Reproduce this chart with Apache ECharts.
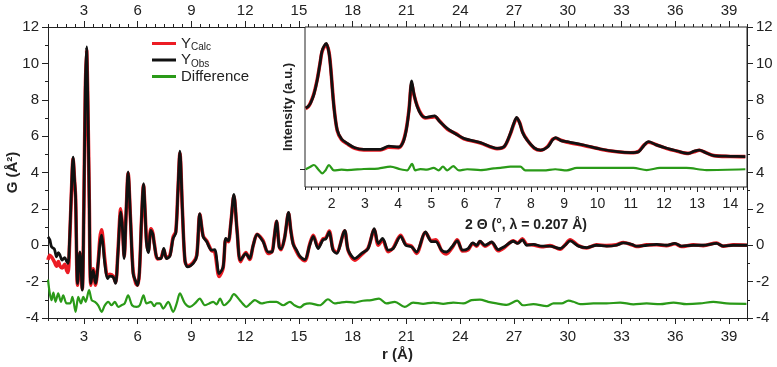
<!DOCTYPE html>
<html>
<head>
<meta charset="utf-8">
<script src="https://cdn.jsdelivr.net/npm/echarts@6/dist/echarts.min.js"></script>
<style>
  html, body { margin: 0; padding: 0; background: #fff; }
  #chart { width: 777px; height: 367px; }
</style>
</head>
<body>
<div id="chart"></div>
<script>
// G(r) – observed, calculated, difference (offset)
const obsMain = [[1.0,0.46],[1.1,0.3],[1.2,-0.09],[1.35,-0.2],[1.48,-0.64],[1.58,-0.4],[1.67,-0.55],[1.79,-0.82],[1.93,-0.68],[2.05,-0.9],[2.12,-1.0],[2.2,0.2],[2.3,2.8],[2.40,4.85],[2.48,3.6],[2.54,2.65],[2.65,-2.1],[2.78,-0.37],[2.91,-2.47],[3.0,2.0],[3.08,8.5],[3.15,10.9],[3.22,8.0],[3.30,2.65],[3.39,-2.1],[3.52,-1.37],[3.65,-2.1],[3.80,-1.0],[3.9,0.1],[3.99,0.55],[4.08,-0.1],[4.17,-1.0],[4.32,-1.83],[4.45,-1.7],[4.64,-1.75],[4.77,-2.1],[4.9,-0.5],[5.06,1.83],[5.15,1.0],[5.25,-0.73],[5.36,1.8],[5.47,4.03],[5.6,1.5],[5.75,-1.56],[5.9,-2.0],[6.0,-2.2],[6.1,-1.5],[6.22,1.5],[6.33,3.39],[6.42,1.8],[6.5,0.1],[6.6,-0.4],[6.74,0.82],[6.85,0.6],[6.93,0.05],[7.11,-0.73],[7.3,-0.73],[7.46,-0.18],[7.61,-0.73],[7.8,-0.6],[7.98,0.37],[8.13,0.68],[8.25,3.0],[8.36,5.18],[8.5,1.9],[8.64,-0.82],[8.79,-1.19],[9.1,-1.0],[9.3,-0.6],[9.47,1.74],[9.66,0.46],[9.85,0.2],[10.13,-0.27],[10.3,-0.24],[10.55,-1.56],[10.77,-1.19],[10.92,0.37],[11.06,0.24],[11.2,1.2],[11.37,2.8],[11.55,0.77],[11.74,-0.82],[12.04,-0.46],[12.25,-0.73],[12.45,0.0],[12.67,0.6],[13.0,0.2],[13.28,-0.37],[13.5,-0.37],[13.62,0.4],[13.75,1.34],[13.9,-0.1],[14.0,-0.2],[14.2,0.4],[14.42,1.8],[14.55,0.8],[14.68,0.05],[14.87,-0.27],[15.05,-0.6],[15.33,-0.79],[15.6,0.0],[15.8,0.49],[16.07,-0.18],[16.34,0.3],[16.5,0.35],[16.69,0.73],[16.9,-0.27],[17.1,-0.45],[17.55,0.82],[17.75,-0.27],[18.12,-0.73],[18.5,-0.45],[18.86,-0.18],[19.2,0.91],[19.43,0.09],[19.67,0.37],[19.98,-0.27],[20.26,-0.18],[20.67,0.49],[20.96,0.0],[21.28,-0.09],[21.56,-0.37],[22.06,0.73],[22.4,0.2],[22.64,0.2],[22.96,-0.27],[23.23,-0.37],[23.57,-0.05],[23.83,0.24],[24.13,-0.27],[24.44,-0.18],[24.7,0.13],[24.92,0.0],[25.1,0.22],[25.38,0.0],[25.75,0.18],[26.12,-0.24],[26.5,-0.05],[26.96,0.22],[27.2,0.1],[27.47,0.3],[27.71,0.0],[28.08,0.05],[28.55,-0.05],[29.01,-0.05],[29.57,-0.18],[29.85,0.0],[30.13,0.24],[30.6,-0.05],[31.06,-0.13],[31.6,0.0],[32.17,-0.05],[32.7,0.0],[33.1,0.13],[33.56,0.05],[33.84,-0.05],[34.4,0.0],[34.96,0.05],[35.5,0.0],[35.98,0.1],[36.35,-0.05],[37.0,0.0],[37.56,0.0],[38.3,0.1],[38.67,-0.05],[39.23,0.0],[40.0,0.0]];

const calcMain = [[1.0,-0.8],[1.1,-0.55],[1.2,-0.65],[1.35,-0.9],[1.48,-1.15],[1.58,-0.9],[1.67,-1.15],[1.79,-1.25],[1.93,-1.05],[2.05,-1.4],[2.12,-1.5],[2.2,0.0],[2.3,2.7],[2.40,4.75],[2.48,3.6],[2.54,2.6],[2.65,-2.2],[2.78,-0.45],[2.91,-2.4],[3.0,2.1],[3.08,8.4],[3.15,10.75],[3.22,8.0],[3.30,2.6],[3.39,-2.2],[3.52,-1.3],[3.65,-2.2],[3.80,-0.9],[3.9,0.4],[3.99,0.85],[4.08,0.2],[4.17,-0.8],[4.32,-1.7],[4.45,-1.6],[4.64,-1.7],[4.77,-2.05],[4.9,-0.4],[5.06,2.0],[5.15,1.1],[5.25,-0.6],[5.36,1.8],[5.47,3.95],[5.6,1.5],[5.75,-1.45],[5.9,-2.1],[6.0,-2.2],[6.1,-1.5],[6.22,1.4],[6.33,3.3],[6.42,1.8],[6.5,0.2],[6.6,-0.3],[6.74,0.9],[6.85,0.65],[6.93,0.1],[7.11,-0.75],[7.3,-0.7],[7.46,-0.25],[7.61,-0.7],[7.8,-0.55],[7.98,0.45],[8.13,0.75],[8.25,3.0],[8.36,5.05],[8.5,1.9],[8.64,-0.85],[8.79,-1.15],[9.1,-0.95],[9.3,-0.55],[9.47,1.7],[9.66,0.5],[9.85,0.25],[10.13,-0.3],[10.3,-0.35],[10.55,-1.72],[10.77,-1.25],[10.92,0.3],[11.06,0.2],[11.2,1.2],[11.37,2.7],[11.55,0.8],[11.74,-0.9],[12.04,-0.4],[12.25,-0.78],[12.45,0.0],[12.67,0.6],[13.0,0.25],[13.28,-0.45],[13.5,-0.35],[13.62,0.4],[13.75,1.3],[13.9,-0.05],[14.0,-0.25],[14.2,0.4],[14.42,1.75],[14.55,0.8],[14.68,0.1],[14.87,-0.35],[15.05,-0.65],[15.33,-0.85],[15.6,0.05],[15.8,0.55],[16.07,-0.1],[16.34,0.35],[16.5,0.4],[16.69,0.78],[16.9,-0.2],[17.1,-0.4],[17.55,0.78],[17.75,-0.3],[18.12,-0.82],[18.5,-0.5],[18.86,-0.15],[19.2,0.85],[19.43,0.0],[19.67,0.3],[19.98,-0.35],[20.26,-0.15],[20.67,0.55],[20.96,0.05],[21.28,-0.05],[21.56,-0.45],[22.06,0.7],[22.4,0.25],[22.64,0.3],[22.96,-0.3],[23.23,-0.48],[23.57,-0.1],[23.83,0.3],[24.13,-0.32],[24.44,-0.25],[24.7,0.1],[24.92,-0.05],[25.1,0.2],[25.38,-0.05],[25.75,0.15],[26.12,-0.3],[26.5,-0.1],[26.96,0.25],[27.2,0.12],[27.47,0.35],[27.71,0.05],[28.08,0.02],[28.55,-0.08],[29.01,-0.02],[29.57,-0.22],[29.85,0.02],[30.13,0.3],[30.6,-0.02],[31.06,-0.15],[31.6,0.02],[32.17,-0.02],[32.7,0.02],[33.1,0.15],[33.56,0.03],[33.84,-0.07],[34.4,0.02],[34.96,0.03],[35.5,-0.02],[35.98,0.08],[36.35,-0.07],[37.0,0.02],[37.56,-0.02],[38.3,0.12],[38.67,-0.05],[39.23,0.02],[40.0,0.0]];

const diffMain = [[1.0,-1.89],[1.1,-2.65],[1.2,-3.02],[1.3,-2.6],[1.42,-3.11],[1.57,-2.65],[1.72,-3.11],[1.85,-2.75],[2.04,-3.2],[2.23,-3.2],[2.36,-2.84],[2.54,-3.66],[2.69,-2.84],[2.84,-3.2],[2.97,-2.84],[3.1,-3.11],[3.29,-2.47],[3.44,-3.02],[3.62,-3.11],[3.8,-3.3],[3.99,-3.66],[4.17,-3.3],[4.36,-3.11],[4.55,-3.3],[4.73,-3.11],[4.92,-3.39],[5.1,-3.3],[5.28,-3.2],[5.47,-2.75],[5.69,-3.3],[5.94,-3.39],[6.12,-3.3],[6.33,-2.75],[6.5,-3.2],[6.74,-3.11],[6.93,-3.35],[7.06,-3.2],[7.24,-3.2],[7.43,-3.48],[7.71,-3.11],[7.98,-3.66],[8.18,-3.2],[8.36,-2.65],[8.64,-3.2],[8.92,-3.39],[9.2,-3.2],[9.47,-2.93],[9.75,-3.3],[10.0,-3.2],[10.22,-3.11],[10.4,-3.25],[10.6,-2.93],[10.82,-3.3],[11.15,-3.02],[11.37,-2.69],[11.7,-3.02],[11.9,-3.25],[12.07,-3.39],[12.3,-3.2],[12.54,-3.02],[12.91,-3.2],[13.15,-3.15],[13.38,-3.11],[13.75,-3.11],[14.12,-3.3],[14.5,-3.11],[14.75,-3.3],[15.05,-3.42],[15.3,-3.25],[15.6,-3.2],[16.16,-3.3],[16.62,-2.97],[16.99,-3.2],[17.3,-3.15],[17.64,-3.11],[18.1,-3.15],[18.57,-3.05],[19.04,-3.02],[19.47,-2.93],[19.88,-3.2],[20.35,-3.11],[20.9,-3.39],[21.37,-3.15],[21.93,-3.22],[22.49,-3.15],[23.05,-3.22],[23.61,-3.15],[24.17,-3.2],[24.63,-3.02],[25.1,-2.99],[25.56,-3.11],[26.03,-3.2],[26.59,-3.28],[27.18,-3.05],[27.5,-3.3],[28.08,-3.24],[28.83,-3.35],[29.2,-3.2],[29.66,-3.2],[30.04,-3.05],[30.32,-3.11],[30.69,-3.24],[31.43,-3.2],[32.17,-3.2],[32.92,-3.15],[33.66,-3.25],[34.4,-3.2],[35.15,-3.24],[35.9,-3.15],[36.63,-3.24],[37.38,-3.2],[38.12,-3.11],[38.86,-3.2],[39.97,-3.22]];

// inset: intensity vs 2 theta (arbitrary units)
const obsInset = [[1.22,49.4],[1.3,50.5],[1.37,52.5],[1.47,58],[1.57,67],[1.65,77],[1.72,85.6],[1.84,89.8],[1.92,84],[1.97,75],[2.07,50],[2.17,35.6],[2.3,30],[2.47,27.3],[2.7,24.5],[2.97,23.5],[3.47,23.5],[3.72,25.6],[4.02,25],[4.15,28],[4.25,36],[4.33,48],[4.41,66.25],[4.48,58],[4.58,50.2],[4.7,45],[4.82,43.5],[5.0,44.2],[5.1,44.4],[5.25,41],[5.48,36.7],[5.75,33],[5.98,30.4],[6.48,27.7],[6.98,24.2],[7.2,25.5],[7.38,33.5],[7.48,39.6],[7.57,43.5],[7.66,40],[7.75,34],[7.88,29.4],[8.1,24.5],[8.29,23.1],[8.5,25],[8.65,29.5],[8.74,30.8],[8.9,29],[9.09,28.3],[9.59,26.25],[10.09,23.75],[10.59,22.1],[11.0,21.5],[11.24,22.1],[11.4,26],[11.54,28.3],[11.75,26.5],[12.09,24.2],[12.4,22.5],[12.74,21],[12.9,22.3],[13.07,23.1],[13.25,21.5],[13.5,19.6],[14.0,19.2],[14.45,19]];
const calcInset = [[1.22,49.0],[1.3,50.2],[1.37,52.8],[1.47,58.5],[1.57,67.5],[1.65,77],[1.72,85],[1.84,89.2],[1.92,84.5],[1.97,75.5],[2.07,50.5],[2.17,35.2],[2.3,29.6],[2.47,27.0],[2.7,24.2],[2.97,23.2],[3.47,23.2],[3.72,24.8],[4.02,24.6],[4.15,28.3],[4.25,36.5],[4.33,48.5],[4.41,64.5],[4.48,57.5],[4.58,50.5],[4.7,45.4],[4.82,43.2],[5.0,43.6],[5.1,44.0],[5.25,41.2],[5.48,36.2],[5.75,33.2],[5.98,30.1],[6.48,27.5],[6.98,24.0],[7.2,25.3],[7.38,33.2],[7.48,39.2],[7.57,43.0],[7.66,40.2],[7.75,34.3],[7.88,29.6],[8.1,24.2],[8.29,23.0],[8.5,25.3],[8.65,29.8],[8.74,30.5],[8.9,29.2],[9.09,28.0],[9.59,26.0],[10.09,23.6],[10.59,22.0],[11.0,21.4],[11.24,22.3],[11.4,26.2],[11.54,28.0],[11.75,26.6],[12.09,24.0],[12.4,22.4],[12.74,21.0],[12.9,22.0],[13.07,23.0],[13.25,21.6],[13.5,19.6],[14.0,19.1],[14.45,19]];
const diffInset = [[1.22,11.1],[1.35,12.5],[1.47,13.75],[1.6,11],[1.72,8.5],[1.82,10.5],[1.92,13.75],[2.07,10.4],[2.3,10.8],[2.47,10.6],[2.97,11.25],[3.4,11.5],[3.77,12.7],[4.07,11.1],[4.27,10.4],[4.42,14.4],[4.52,10.4],[4.67,11.2],[4.87,10.8],[5.07,11.9],[5.22,10.4],[5.35,12.7],[5.48,10.4],[5.66,13.1],[5.83,10.4],[6.08,11.1],[6.48,10.6],[6.88,11.6],[7.08,11.9],[7.38,12.7],[7.68,12.7],[7.83,10.4],[8.38,10.4],[8.73,11.1],[9.08,10.4],[9.38,11.9],[10.08,11.9],[11.08,11.9],[11.48,10.6],[11.88,11.9],[12.68,11.9],[13.28,10.6],[14.45,11.1]];

// tick labels
const rTicks = [3, 6, 9, 12, 15, 18, 21, 24, 27, 30, 33, 36, 39];
const thetaTicks = [2, 3, 4, 5, 6, 7, 8, 9, 10, 11, 12, 13, 14];
const insetYTick = [11.25];

const FONT = 'Liberation Sans, Arial, sans-serif';
const AX = '#222';
const RED = '#ec1c24';
const GREEN = '#2a9a18';

const legendNames = { YCalc: '{y|Y}{s|Calc}', YObs: '{y|Y}{s|Obs}', Difference: '{y|Difference}' };

const mainGrid = { left: 48, top: 27, right: 30, bottom: 49, outerBoundsMode: 'none' };
const insetGrid = { left: 305, top: 27, width: 442, height: 160, outerBoundsMode: 'none' };

const majorX = (pos) => ({
  type: 'value', gridIndex: 0, position: pos, min: 1, max: 40,
  axisLine: { show: true, onZero: false, lineStyle: { color: AX, width: 1 } },
  axisTick: { show: true, customValues: rTicks, length: 6, lineStyle: { color: AX } },
  axisLabel: { customValues: rTicks, fontSize: 15, color: AX, fontFamily: FONT, margin: pos === 'bottom' ? 11 : 9 },
  splitLine: { show: false },
  ...(pos === 'bottom' ? { name: 'r (Å)', nameLocation: 'middle', nameGap: 29, nameMoveOverlap: false,
    nameTextStyle: { fontSize: 15, fontWeight: 'bold', color: AX, fontFamily: FONT } } : {}),
});
const minorX = (pos) => ({
  type: 'value', gridIndex: 1, position: pos, min: 1, max: 40, interval: 0.5,
  axisLine: { show: false, onZero: false },
  axisTick: { show: true, length: 3, lineStyle: { color: AX } },
  axisLabel: { show: false }, splitLine: { show: false },
});
const mainY = (pos) => ({
  type: 'value', gridIndex: 0, position: pos, min: -4, max: 12, interval: 2,
  axisLine: { show: true, onZero: false, lineStyle: { color: AX, width: 1 } },
  axisTick: { show: true, length: 6, lineStyle: { color: AX } },
  minorTick: { show: true, splitNumber: 2, length: 3, lineStyle: { color: AX } },
  axisLabel: { fontSize: 15, color: AX, fontFamily: FONT, margin: 9 },
  splitLine: { show: false }, minorSplitLine: { show: false },
  ...(pos === 'left' ? { name: 'G (Å²)', nameLocation: 'middle', nameGap: 28, nameMoveOverlap: false,
    nameTextStyle: { fontSize: 15, fontWeight: 'bold', color: AX, fontFamily: FONT } } : {}),
});

const line = (name, data, color, width, xi, yi, z) => ({
  name, type: 'line', data, xAxisIndex: xi, yAxisIndex: yi,
  showSymbol: false, smooth: 0.3, z,
  lineStyle: { color, width }, itemStyle: { color },
});

const option = {
  animation: false,
  backgroundColor: '#fff',
  textStyle: { fontFamily: FONT },
  grid: [
    { ...mainGrid },
    { ...mainGrid },
    { ...insetGrid, show: true, backgroundColor: '#fff', borderColor: AX, borderWidth: 1, z: 3 },
    { ...insetGrid },
  ],
  legend: {
    orient: 'vertical', left: 147, top: 31, itemGap: 0,
    itemWidth: 24, itemHeight: 3, icon: 'rect',
    data: ['YCalc', 'YObs', 'Difference'],
    formatter: (n) => legendNames[n],
    textStyle: {
      color: AX, fontFamily: FONT,
      rich: {
        y: { fontSize: 15, lineHeight: 18, fontFamily: FONT, color: AX },
        s: { fontSize: 10, lineHeight: 10, verticalAlign: 'bottom', fontFamily: FONT, color: AX },
      },
    },
  },
  xAxis: [
    majorX('bottom'),
    majorX('top'),
    minorX('bottom'),
    minorX('top'),
    {
      type: 'value', gridIndex: 2, position: 'bottom', min: 1.2, max: 14.5,
      axisLine: { show: false, onZero: false },
      axisTick: { show: true, customValues: thetaTicks, length: 5, lineStyle: { color: AX } },
      axisLabel: { customValues: thetaTicks, fontSize: 14, color: AX, fontFamily: FONT, margin: 10 },
      splitLine: { show: false },
      name: '2 Θ (°, λ = 0.207 Å)', nameLocation: 'middle', nameGap: 31, nameMoveOverlap: false,
      nameTextStyle: { fontSize: 14, fontWeight: 'bold', color: AX, fontFamily: FONT },
    },
    {
      type: 'value', gridIndex: 3, position: 'bottom', min: 1.2, max: 14.5, interval: 0.2,
      axisLine: { show: false, onZero: false },
      axisTick: { show: true, length: 3, lineStyle: { color: AX } },
      axisLabel: { show: false }, splitLine: { show: false },
    },
  ],
  yAxis: [
    mainY('left'),
    mainY('right'),
    { type: 'value', gridIndex: 1, min: -4, max: 12, show: false },
    {
      type: 'value', gridIndex: 2, min: 0, max: 100,
      axisLine: { show: false, onZero: false },
      axisTick: { show: true, customValues: insetYTick, length: 5, lineStyle: { color: AX } },
      axisLabel: { show: false }, splitLine: { show: false },
      name: 'Intensity (a.u.)', nameLocation: 'middle', nameGap: 10, nameMoveOverlap: false,
      nameTextStyle: { fontSize: 13, fontWeight: 'bold', color: AX, fontFamily: FONT },
    },
    { type: 'value', gridIndex: 3, min: 0, max: 100, show: false },
  ],
  series: [
    line('YCalc', calcMain, RED, 3.6, 0, 0, 2),
    line('YObs', obsMain, '#111', 2.8, 0, 0, 3),
    line('Difference', diffMain, GREEN, 2.2, 0, 0, 2),
    line('calcInset', calcInset, RED, 3.6, 4, 3, 4),
    line('obsInset', obsInset, '#111', 2.8, 4, 3, 5),
    line('diffInset', diffInset, GREEN, 2.2, 4, 3, 4),
  ],
};

const chart = echarts.init(document.getElementById('chart'));
chart.setOption(option);
</script>
</body>
</html>
